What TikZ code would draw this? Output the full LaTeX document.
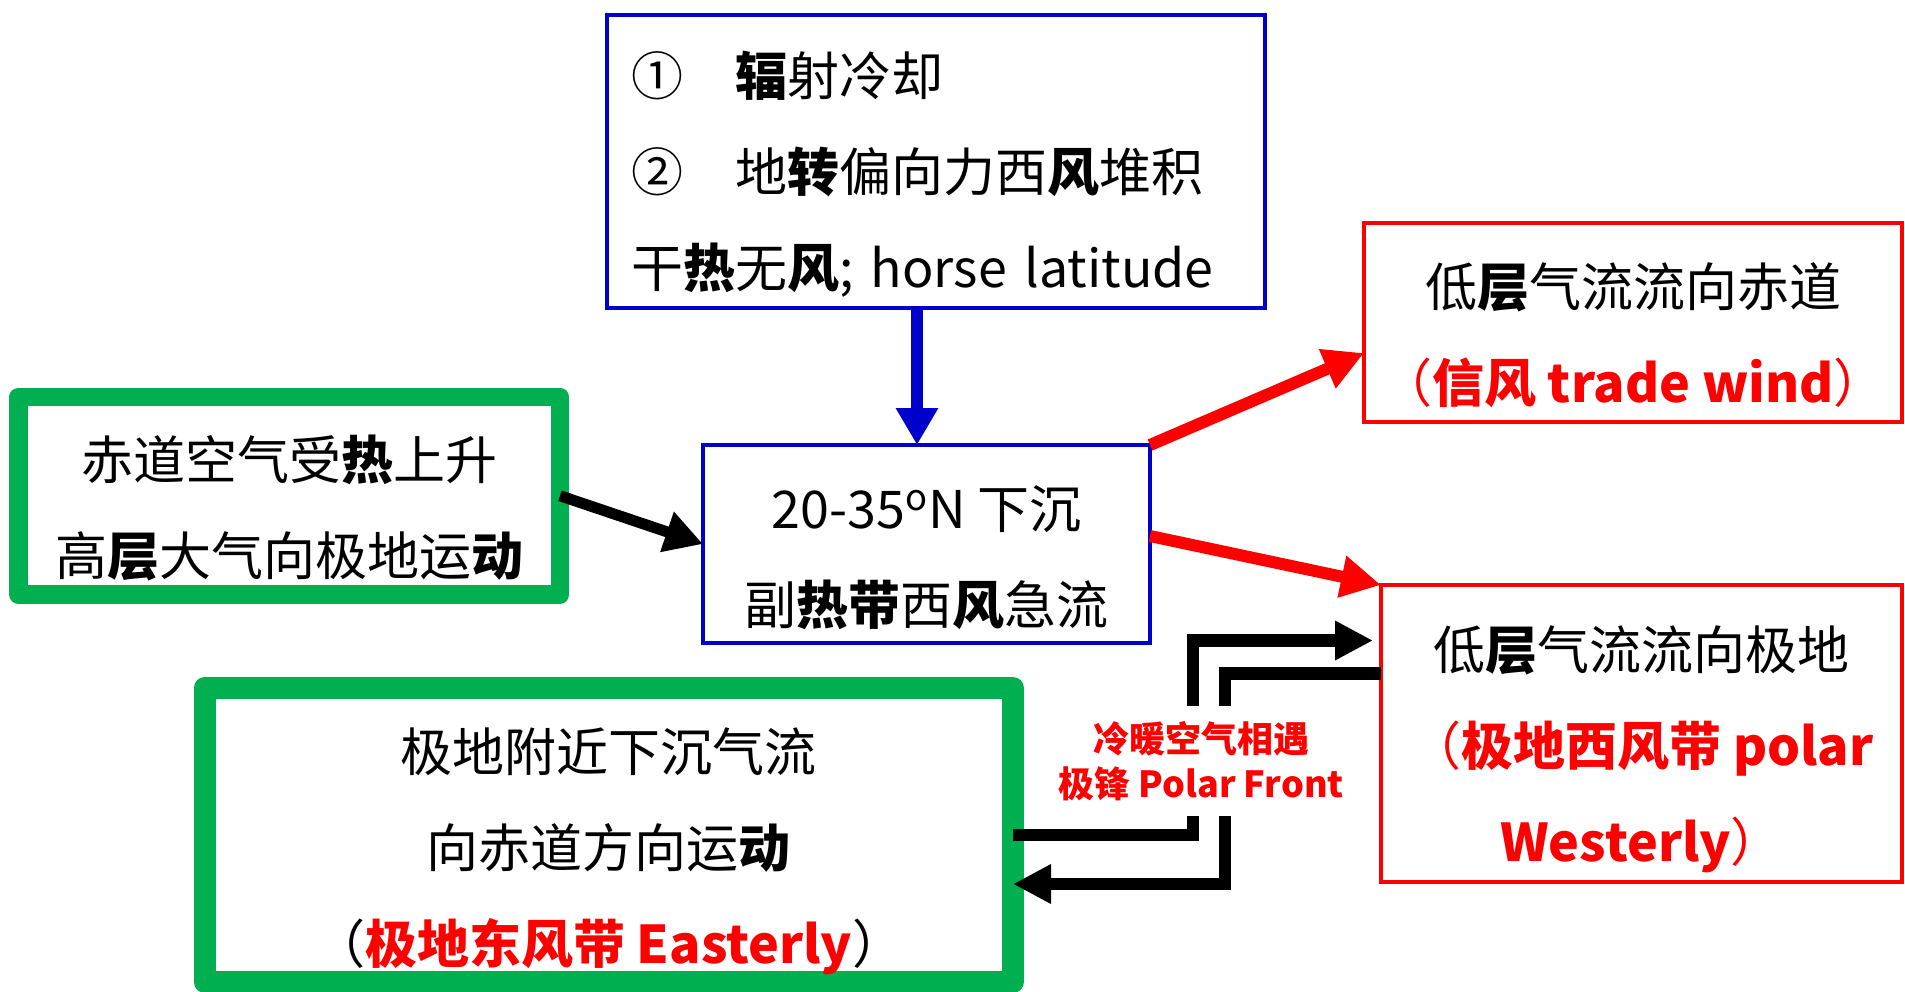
\documentclass[tikz,border=0pt]{standalone}
\usepackage{fontspec}
\setmainfont{Noto Sans CJK SC}
\usetikzlibrary{arrows.meta}
\definecolor{myblue}{RGB}{0,0,204}
\definecolor{mygreen}{RGB}{0,176,80}
\definecolor{myred}{RGB}{255,0,0}
\newcommand{\B}[1]{\textbf{#1}}
\newcommand{\firstgap}{\rule{0pt}{35pt}}
\newcommand{\firstgapb}{\rule{0pt}{38pt}}
\begin{document}
\begin{tikzpicture}[x=0.5pt,y=-0.5pt,
  txt/.style={font=\fontsize{26pt}{48pt}\selectfont, align=center, outer sep=0pt, inner sep=0pt},
  bluebox/.style={txt, draw=myblue, line width=2pt},
  redbox/.style={txt, draw=myred, line width=2pt},
  greenbox/.style={txt, draw=mygreen, line join=round},
  bluearrow/.style={draw=myblue, line width=6.3pt, -{Triangle[width=20pt,length=18.5pt]}},
  redarrow/.style={draw=myred, line width=6pt, -{Triangle[width=20pt,length=20pt]}},
  blackarrow/.style={draw=black, line width=5.5pt, -{Triangle[width=20pt,length=19pt]}},
  polar/.style={draw=black, line width=6.3pt, -{Triangle[width=18.5pt,length=19pt]}},
  frontlabel/.style={fill=white, text=myred, font=\bfseries\fontsize{18pt}{22.5pt}\selectfont, align=center, inner xsep=4pt, inner ysep=0pt, minimum height=55pt}
]
\fill[white] (0,0) rectangle (1905,991);
\useasboundingbox (0,0) rectangle (1905,991);

\node[bluebox, align=left, text width=305pt, inner xsep=12pt, minimum height=146.5pt, line width=2.25pt] (top) at (936,161.5)
  {\firstgap①　\B{辐}射冷却\\②　地\B{转}偏向力西\B{风}堆积\\干\B{热}无\B{风}; horse latitude};

\node[bluebox, minimum width=223.5pt, minimum height=99pt] (mid) at (926.5,544)
  {\firstgap 20-35\textsuperscript{o}N 下沉\\副\B{热带}西\B{风}急流};

\node[greenbox, line width=9.25pt, minimum width=270.75pt, minimum height=98.75pt] (left) at (289.25,495.75)
  {\firstgap 赤道空气受\B{热}上升\\高\B{层}大气向极地运\B{动}};

\node[greenbox, line width=11pt, minimum width=404.25pt, minimum height=147pt] (bot) at (608.75,835)
  {\firstgapb 极地附近下沉气流\\向赤道方向运\B{动}\\（{\color{myred}\B{极地东风带 Easterly}}）};

\node[redbox, minimum width=269pt, minimum height=99.5pt] (red1) at (1633,322.5)
  {\firstgap 低\B{层}气流流向赤道\\{\color{myred}（\B{信风 trade wind}）}};

\node[redbox, minimum width=260.5pt, minimum height=148.5pt] (red2) at (1641.5,733.5)
  {\firstgapb 低\B{层}气流流向极地\\{\color{myred}（\B{极地西风带 polar}}\\{\color{myred}\B{Westerly}）}};

% connectors
\draw[bluearrow] ([xshift=-4.75pt]mid.north |- top.south) -- ([xshift=-4.75pt]mid.north);
\draw[blackarrow] (left.east) -- (mid.west);
\draw[redarrow] (mid.north east) -- ([yshift=-15.25pt]red1.west);
\draw[redarrow] ([yshift=4pt]mid.east) -- (red2.north west);

\coordinate (pa) at (1193,640.5);
\coordinate (pb) at (1225,673.7);
\coordinate (pc) at (1225,884);
\draw[polar] (bot.east) -| (pa) -- ([xshift=-4pt]pa -| red2.west);
\draw[polar] (pb -| red2.west) -- (pb) -- (pc) -- (pc -| bot.east);

\node[frontlabel] (front) at (1201,761) {冷暖空气相遇\\极锋 Polar Front};
\end{tikzpicture}
\end{document}
